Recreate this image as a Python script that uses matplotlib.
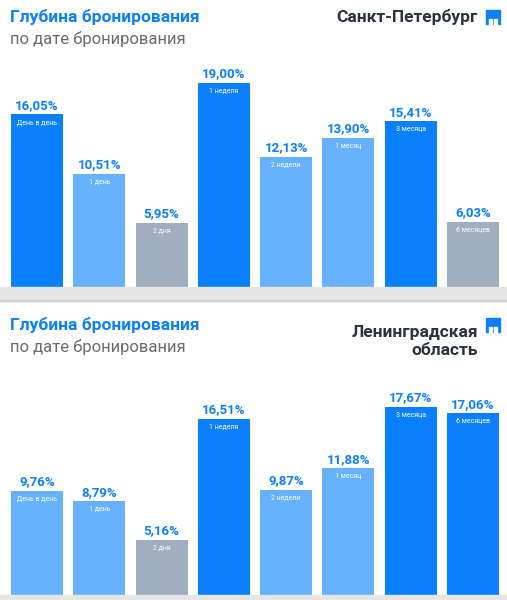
import matplotlib
matplotlib.use("Agg")
import matplotlib.pyplot as plt
from matplotlib.patches import Rectangle

categories = ["День в день", "1 день", "2 дня", "1 неделя", "2 недели", "1 месяц", "3 месяца", "6 месяцев"]
spb_values = [16.05, 10.51, 5.95, 19.00, 12.13, 13.90, 15.41, 6.03]
lo_values = [9.76, 8.79, 5.16, 16.51, 9.87, 11.88, 17.67, 17.06]
BRIGHT, LIGHT, GREY = "#0A80FF", "#66B2FF", "#A0AEC0"
spb_colors = [BRIGHT, LIGHT, GREY, BRIGHT, LIGHT, LIGHT, BRIGHT, GREY]
lo_colors = [LIGHT, LIGHT, GREY, BRIGHT, LIGHT, LIGHT, BRIGHT, BRIGHT]

W, H = 507, 600
fig = plt.figure(figsize=(W/100, H/100), dpi=100)
fig.patch.set_facecolor("white")
FONT = ["Roboto", "DejaVu Sans"]

def fx(x): return x / W
def fy(y): return 1 - y / H

def panel(base, top, values, colors, region, ty):
    ax = fig.add_axes([fx(6), fy(base), fx(498), (base - top) / H])
    ax.set_xlim(-0.5, 7.5)
    ax.set_ylim(0, 20)
    ax.axis("off")
    xs = range(len(values))
    ax.bar(xs, values, width=0.835, color=colors)
    for x, v, c in zip(xs, values, categories):
        ax.text(x, v + 0.25, f"{v:.2f}".replace(".", ",") + "%", ha="center", va="bottom",
                color=BRIGHT, fontsize=9.5, fontweight="bold", family=FONT)
        ax.text(x, v - 0.45, c, ha="center", va="top", color="white", fontsize=5, family=FONT)
    fig.text(fx(10), fy(ty), "Глубина бронирования", color=BRIGHT, fontsize=12.5,
             fontweight="bold", family=FONT, va="center")
    fig.text(fx(10), fy(ty + 22), "по дате бронирования", color="#6b6b6b", fontsize=12,
             family=FONT, va="center")
    fig.text(fx(478), fy(ty), region, color="#2b3240", fontsize=12.5, fontweight="bold",
             family=FONT, ha="right", va="top" if "\n" in region else "center",
             linespacing=1.25, **({"y": fy(ty - 9)} if False else {}))
    # icon
    fig.patches.append(Rectangle((fx(486), fy(ty + 7)), fx(14), 14 / H, color=BRIGHT,
                                 transform=fig.transFigure, figure=fig))
    for i in range(3):
        for j in range(2):
            fig.patches.append(Rectangle((fx(488.5 + j * 5.5), fy(ty + 4.5 - 0 + i * 4 - 0)),
                                         fx(3), 2.5 / H, color="white",
                                         transform=fig.transFigure, figure=fig))

panel(287, 72, spb_values, spb_colors, "Санкт-Петербург", 17)
panel(595, 382, lo_values, lo_colors, "Ленинградская\nобласть", 325)

fig.patches.append(Rectangle((0, fy(301)), 1, 14 / H, color="#E6E6E6",
                             transform=fig.transFigure, figure=fig))
fig.patches.append(Rectangle((0, fy(301)), 1, 1 / H, color="#D0D0D0",
                             transform=fig.transFigure, figure=fig))
fig.patches.append(Rectangle((0, 0), 1, 5 / H, color="#E6E6E6",
                             transform=fig.transFigure, figure=fig))
fig.savefig("out.png", dpi=100)
